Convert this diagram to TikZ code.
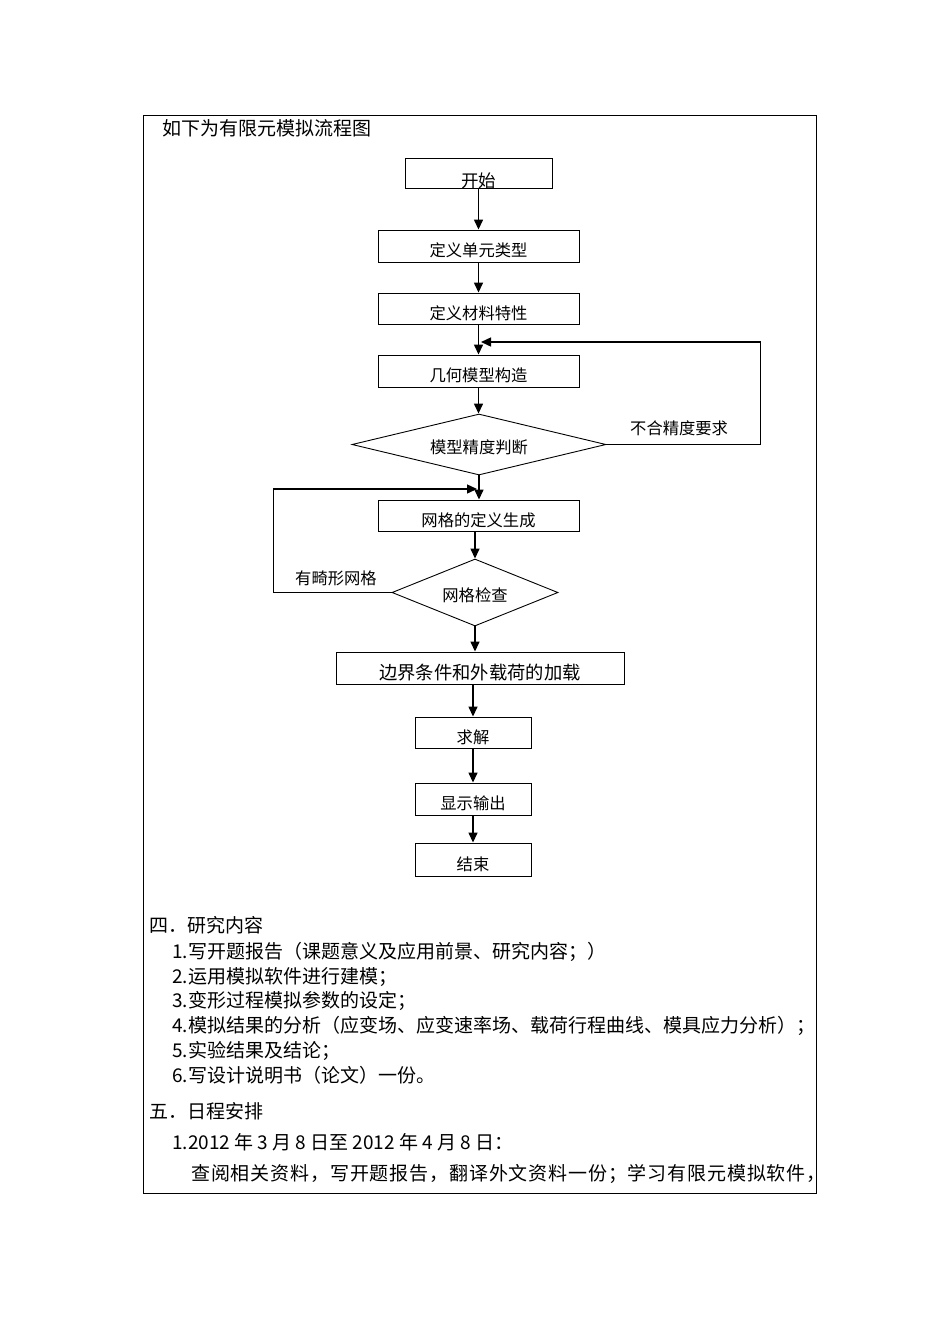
\documentclass[tikz,border=0pt]{standalone}
\usepackage{fontspec}
\newfontfamily\cjk{Noto Sans CJK SC}
\newfontfamily\cjksp[LetterSpace=4.5]{Noto Sans CJK SC}
\usetikzlibrary{arrows.meta,shapes.geometric}
\newcommand\lowtext[2][4.5pt]{\raisebox{-#1}[\height][\depth]{#2}}
\tikzset{
  fbox/.style={draw, line width=0.9pt, inner sep=0pt, font=\cjk\fontsize{16.3}{18}\selectfont},
  fdia/.style={draw, diamond, line width=0.9pt, inner sep=0pt, font=\cjk\fontsize{16.3}{18}\selectfont},
  arr/.style={line width=1.4pt, -{Triangle[length=10pt,width=9pt]}},
  lbl/.style={anchor=west, inner sep=0pt, font=\cjk\fontsize{16.3}{18}\selectfont},
  txt/.style={anchor=west, inner sep=0pt, font=\cjk\fontsize{19}{21}\selectfont},
}
\begin{document}
\begin{tikzpicture}[x=1pt,y=-1pt]
\useasboundingbox (0,0) rectangle (950,1344);
\fill[white] (0,0) rectangle (950,1344);
% frame
\node[draw, line width=0.9pt, minimum width=673pt, minimum height=1078pt, anchor=north west, inner sep=0pt] (frame) at (143,115) {};
% title
\node[txt] (title) at (162,128) {如下为有限元模拟流程图};
% flowchart nodes
\node[fbox, minimum width=147pt, minimum height=30pt, font=\cjk\fontsize{17.5}{19}\selectfont] (start) at (478.5,173) {\lowtext[8pt]{开始}};
\node[fbox, minimum width=201pt, minimum height=32pt] (t1) at (478.5,246) {\lowtext{定义单元类型}};
\node[fbox, minimum width=201pt, minimum height=31pt] (t2) at (478.5,308.5) {\lowtext{定义材料特性}};
\node[fbox, minimum width=201pt, minimum height=32pt] (t3) at (478.5,371) {\lowtext{几何模型构造}};
\node[fdia, shape aspect=4.2, minimum width=254pt, minimum height=61pt] (d1) at (479,444.5) {\lowtext[3pt]{模型精度判断}};
\node[fbox, minimum width=201pt, minimum height=31pt] (t4) at (478.5,515.5) {\lowtext{网格的定义生成}};
\node[fdia, shape aspect=2.5, minimum width=166pt, minimum height=67pt] (d2) at (475,592.5) {\lowtext[3pt]{网格检查}};
\node[fbox, minimum width=288pt, minimum height=32pt, font=\cjk\fontsize{18.3}{20}\selectfont] (t5) at (480,668) {\lowtext{边界条件和外载荷的加载}};
\node[fbox, minimum width=116pt, minimum height=31pt] (t6) at (473,732.5) {\lowtext{求解}};
\node[fbox, minimum width=116pt, minimum height=32pt] (t7) at (473,799) {\lowtext{显示输出}};
\node[fbox, minimum width=116pt, minimum height=33pt] (t8) at (473,859.5) {\lowtext{结束}};
% labels
\node[lbl] (l1) at (630,428) {不合精度要求};
\node[lbl] (l2) at (295,578) {有畸形网格};
% connectors
\draw[arr] (start.south) -- (t1.north);
\draw[arr] (t1.south) -- (t2.north);
\draw[arr] (t2.south) -- (t3.north);
\draw[arr] (t3.south) -- (t3.south |- d1.north);
\draw[arr] (d1.south) -- (d1.south |- t4.north);
\draw[arr] (t4.south -| d2.north) -- (d2.north);
\draw[arr] (d2.south) -- (d2.south |- t5.north);
\draw[arr] (t6.north |- t5.south) -- (t6.north);
\draw[arr] (t6.south) -- (t7.north);
\draw[arr] (t7.south) -- (t8.north);
\coordinate (fb) at (481,342);
\draw[arr] (d1.east) -- ++(154,0) |- (fb);
\coordinate (lb) at (477,489);
\draw[arr] (d2.west) -- ++(-118,0) |- (lb);
% text body
\node[txt] (s4) at (149,925) {四．研究内容};
\node[txt] (i1) at (172,952) {1.写开题报告（课题意义及应用前景、研究内容；）};
\node[txt] (i2) at (172,977) {2.运用模拟软件进行建模；};
\node[txt] (i3) at (172,1001) {3.变形过程模拟参数的设定；};
\node[txt] (i4) at (172,1026) {4.模拟结果的分析（应变场、应变速率场、载荷行程曲线、模具应力分析）；};
\node[txt] (i5) at (172,1051) {5.实验结果及结论；};
\node[txt] (i6) at (172,1075) {6.写设计说明书（论文）一份。};
\node[txt] (s5) at (149,1111) {五．日程安排};
\node[txt] (j1) at (172,1142) {1.2012 年 3 月 8 日至 2012 年 4 月 8 日：};
\node[txt, font=\cjksp\fontsize{19}{21}\selectfont] (j2) at (191,1174) {查阅相关资料，写开题报告，翻译外文资料一份；学习有限元模拟软件，};
\end{tikzpicture}
\end{document}
